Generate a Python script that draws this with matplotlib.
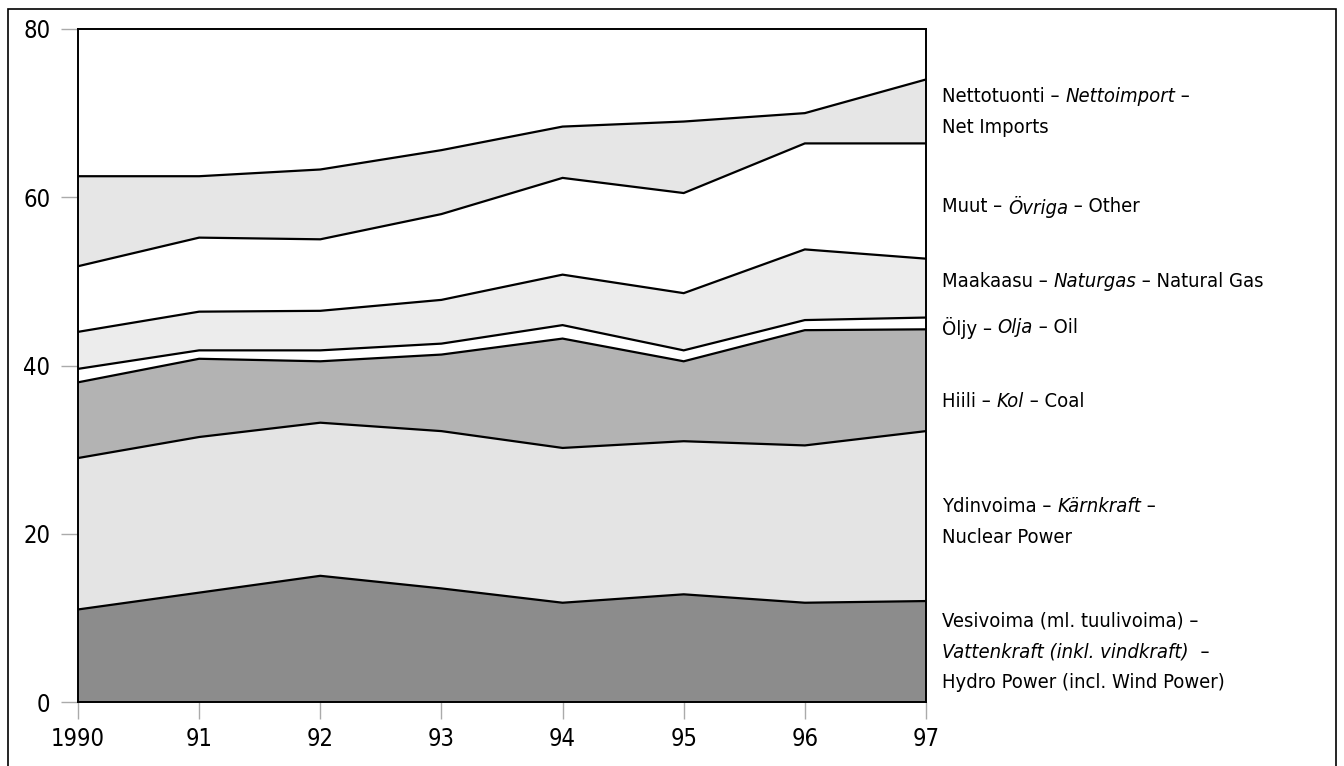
import matplotlib
matplotlib.use("Agg")
import matplotlib.pyplot as plt
from matplotlib.patches import Rectangle
import numpy as np

years = [1990, 1991, 1992, 1993, 1994, 1995, 1996, 1997]
year_labels = ["1990", "91", "92", "93", "94", "95", "96", "97"]

# TWh per source, bottom to top
hydro = [11.0, 13.0, 15.0, 13.5, 11.8, 12.8, 11.8, 12.0]
nuclear = [18.0, 18.5, 18.2, 18.7, 18.4, 18.2, 18.7, 20.2]
coal = [9.0, 9.3, 7.3, 9.1, 13.0, 9.5, 13.7, 12.1]
oil = [1.6, 1.0, 1.3, 1.3, 1.6, 1.3, 1.2, 1.4]
gas = [4.4, 4.6, 4.7, 5.2, 6.0, 6.8, 8.4, 7.0]
other = [7.8, 8.8, 8.5, 10.2, 11.5, 11.9, 12.6, 13.7]
net_imports = [10.7, 7.3, 8.3, 7.6, 6.1, 8.5, 3.6, 7.6]

layers = [hydro, nuclear, coal, oil, gas, other, net_imports]
colors = ["#8c8c8c", "#e4e4e4", "#b3b3b3", "#ffffff", "#ececec", "#ffffff", "#e6e6e6"]

# label pieces: (text, italic) per line, and vertical position in pixels
labels = [
    ([[("Nettotuonti – ", False), ("Nettoimport", True), (" –", False)],
      [("Net Imports", False)]], 112),
    ([[("Muut – ", False), ("Övriga", True), (" – Other", False)]], 207),
    ([[("Maakaasu – ", False), ("Naturgas", True), (" – Natural Gas", False)]], 282),
    ([[("Öljy – ", False), ("Olja", True), (" – Oil", False)]], 328),
    ([[("Hiili – ", False), ("Kol", True), (" – Coal", False)]], 402),
    ([[("Ydinvoima – ", False), ("Kärnkraft", True), (" –", False)],
      [("Nuclear Power", False)]], 522),
    ([[("Vesivoima (ml. tuulivoima) –", False)],
      [("Vattenkraft (inkl. vindkraft)", True), ("  –", False)],
      [("Hydro Power (incl. Wind Power)", False)]], 652),
]

plt.rcParams["font.family"] = ["Liberation Sans Narrow", "DejaVu Sans"]
plt.rcParams["font.stretch"] = "condensed"

W, H = 1344, 766
fig = plt.figure(figsize=(W / 100, H / 100), dpi=100)
ax = fig.add_axes([78 / W, 1 - 702 / H, 848 / W, 673 / H])

x = np.array(years)
ax.stackplot(x, *layers, colors=colors, linewidth=0)
cum = np.cumsum(np.array(layers), axis=0)
for row in cum:
    ax.plot(x, row, color="black", lw=1.6, solid_joinstyle="miter")

ax.set_xlim(1990, 1997)
ax.set_ylim(0, 80)
ax.set_xticks(years)
ax.set_xticklabels(year_labels)
ax.set_yticks([0, 20, 40, 60, 80])
for s in ax.spines.values():
    s.set_linewidth(1.4)
    s.set_color("black")
ax.tick_params(axis="both", direction="out", length=12, width=1, color="#aaaaaa",
               labelsize=17, pad=6)
ax.tick_params(axis="y", pad=8)

# right-hand labels, built piece by piece so italics sit inline
line_h = 31
fs = 14.5
chain = []
for lines, yc in labels:
    n = len(lines)
    y0 = yc - (n - 1) * line_h / 2
    for i, pieces in enumerate(lines):
        ypix = y0 + i * line_h
        prev = None
        for txt, ital in pieces:
            style = "italic" if ital else "normal"
            t = fig.text(942 / W, 1 - ypix / H, txt, fontsize=fs, style=style,
                         va="center", ha="left")
            if prev is not None:
                chain.append((t, prev))
            prev = t

fig.canvas.draw()
r = fig.canvas.get_renderer()
for t, prev in chain:
    bb = prev.get_window_extent(r)
    t.set_x(bb.x1 / W)

fig.patches.append(Rectangle((8 / W, -0.05), 1328 / W, 1.05 - 9 / H, transform=fig.transFigure,
                             fill=False, edgecolor="black", lw=1.2))

fig.savefig("out.png", dpi=100, facecolor="white")
